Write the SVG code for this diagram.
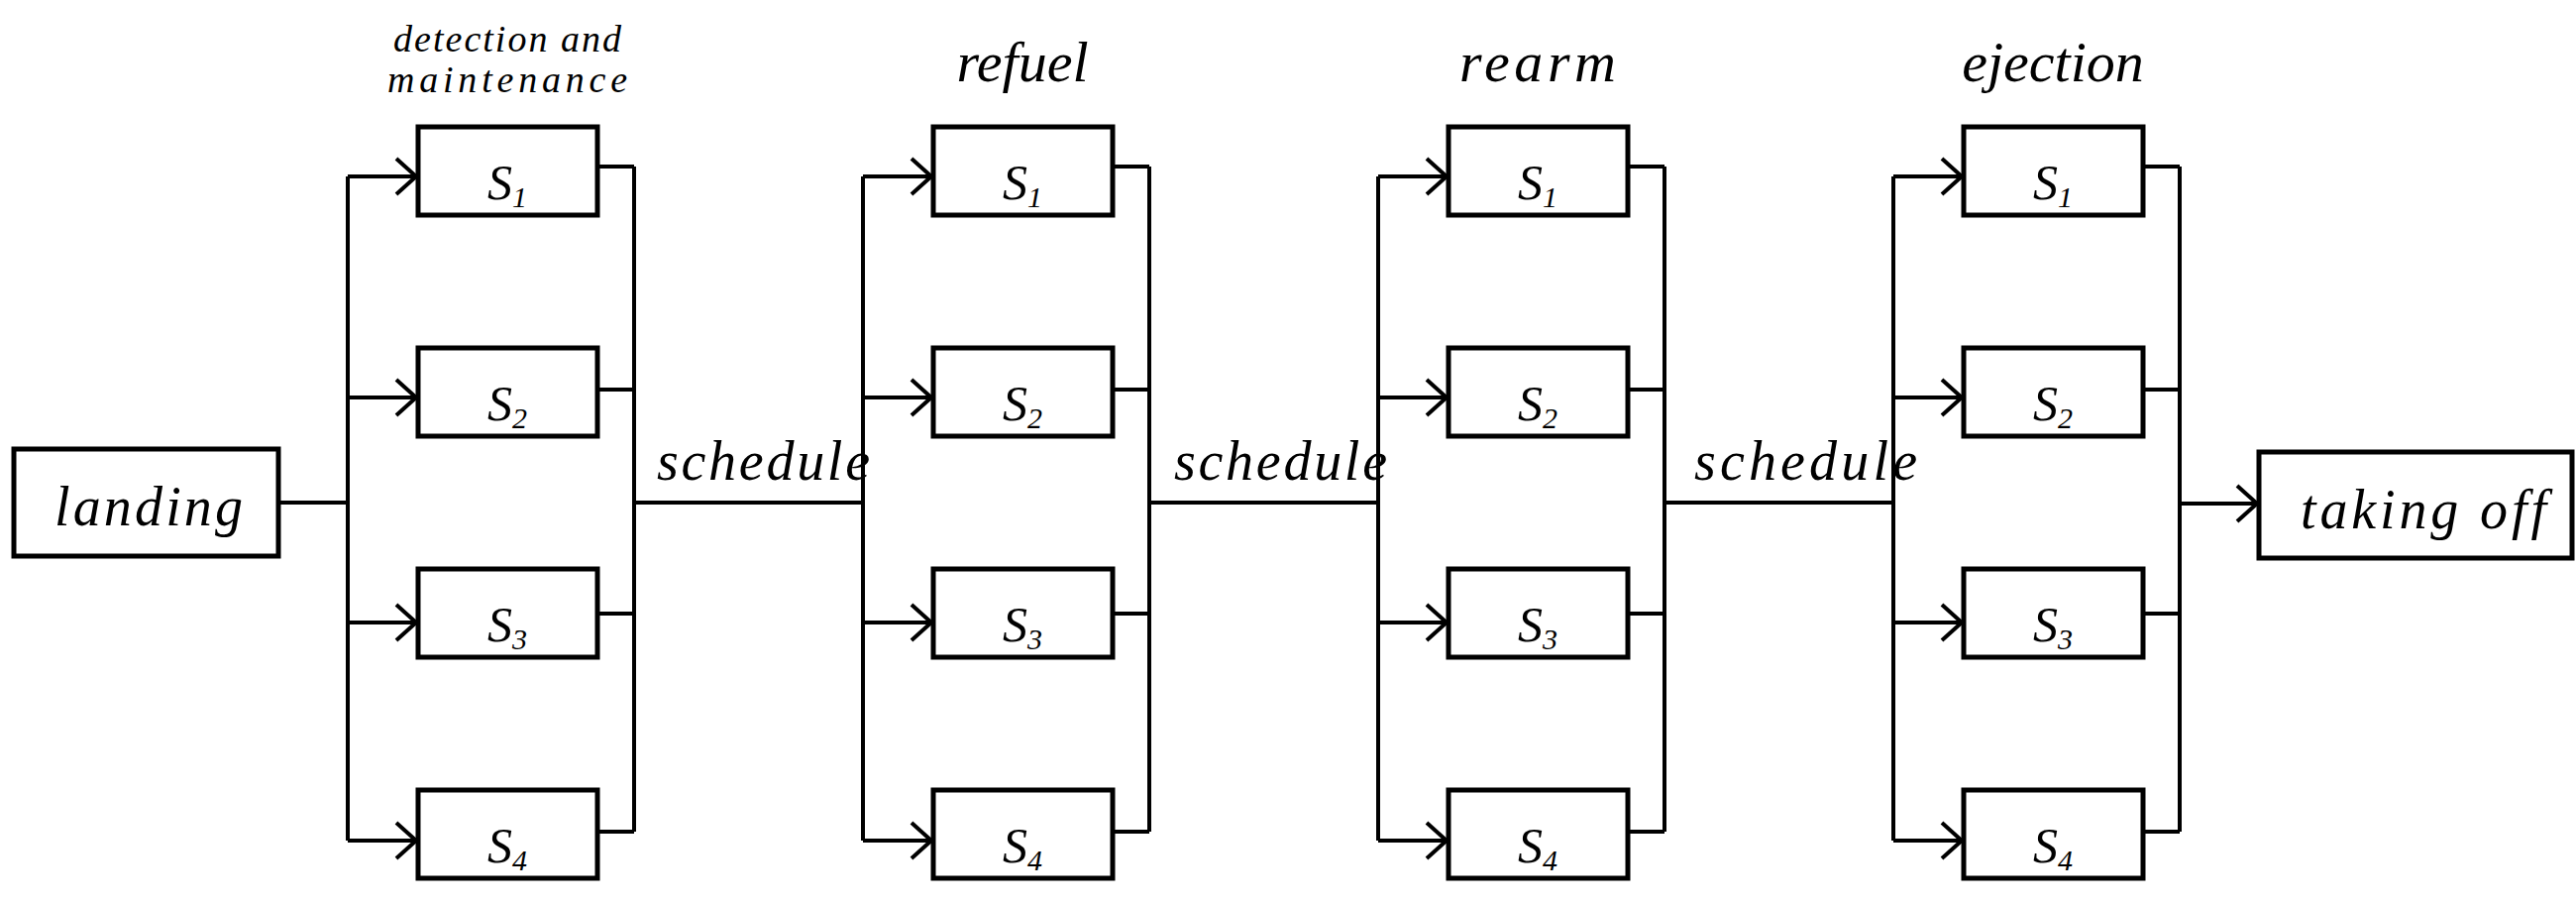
<svg xmlns="http://www.w3.org/2000/svg" width="2600" height="914" viewBox="0 0 2600 914">
<style>
.b{fill:#fff;stroke:#000;stroke-width:5}
.l{fill:none;stroke:#000;stroke-width:4}
text{font-family:"Liberation Serif","Times New Roman",serif;font-style:italic;fill:#000}
.s{font-size:50px;text-anchor:middle}
.h{font-size:58px;text-anchor:middle}
.t{font-size:56px}
</style>
<defs>
<marker id="a" markerUnits="userSpaceOnUse" markerWidth="30" markerHeight="40" refX="22" refY="20" orient="auto"><path d="M2,2 L22,20 L2,38" fill="none" stroke="#000" stroke-width="4"/></marker>
<g id="stage">
<path class="l" d="M351,178 V848 M351,178 H420 M351,401 H420 M351,628 H420 M351,848 H420" />
<path class="l" d="M603,168 H640 M603,393 H640 M603,619 H640 M603,839 H640 M640,168 V839"/>
</g>
</defs>
<g id="connectors">
<path class="l" d="M281,507 H351 M640,507 H871 M1160,507 H1391 M1680,507 H1911"/>
<path class="l" d="M2200,508 H2278" marker-end="url(#a)"/>
<g id="bus1"><path class="l" d="M351,178 V848 M603,168 H640 M603,393 H640 M603,619 H640 M603,839 H640 M640,168 V839"/>
<path class="l" marker-end="url(#a)" d="M351,178 H420"/><path class="l" marker-end="url(#a)" d="M351,401 H420"/><path class="l" marker-end="url(#a)" d="M351,628 H420"/><path class="l" marker-end="url(#a)" d="M351,848 H420"/></g>
<g transform="translate(520,0)"><path class="l" d="M351,178 V848 M603,168 H640 M603,393 H640 M603,619 H640 M603,839 H640 M640,168 V839"/>
<path class="l" marker-end="url(#a)" d="M351,178 H420"/><path class="l" marker-end="url(#a)" d="M351,401 H420"/><path class="l" marker-end="url(#a)" d="M351,628 H420"/><path class="l" marker-end="url(#a)" d="M351,848 H420"/></g>
<g transform="translate(1040,0)"><path class="l" d="M351,178 V848 M603,168 H640 M603,393 H640 M603,619 H640 M603,839 H640 M640,168 V839"/>
<path class="l" marker-end="url(#a)" d="M351,178 H420"/><path class="l" marker-end="url(#a)" d="M351,401 H420"/><path class="l" marker-end="url(#a)" d="M351,628 H420"/><path class="l" marker-end="url(#a)" d="M351,848 H420"/></g>
<g transform="translate(1560,0)"><path class="l" d="M351,178 V848 M603,168 H640 M603,393 H640 M603,619 H640 M603,839 H640 M640,168 V839"/>
<path class="l" marker-end="url(#a)" d="M351,178 H420"/><path class="l" marker-end="url(#a)" d="M351,401 H420"/><path class="l" marker-end="url(#a)" d="M351,628 H420"/><path class="l" marker-end="url(#a)" d="M351,848 H420"/></g>
<text class="t" x="663" y="484" textLength="215">schedule</text>
<text class="t" x="1185" y="484" textLength="215">schedule</text>
<text class="t" x="1710" y="484" textLength="225">schedule</text>
</g>
<g id="landing"><rect class="b" x="14" y="453" width="267" height="108"/><text class="t" x="55" y="530" textLength="190">landing</text></g>
<g id="takingoff"><rect class="b" x="2280" y="456" width="316" height="107"/><text class="t" x="2322" y="533" textLength="248">taking off</text></g>
<g id="headers">
<text x="512" y="52" font-size="38" text-anchor="middle" textLength="230">detection and</text>
<text x="512" y="93" font-size="38" text-anchor="middle" textLength="242">maintenance</text>
<text class="h" x="1032" y="82">refuel</text>
<text class="h" x="1552" y="82" textLength="158">rearm</text>
<text class="h" x="2072" y="82">ejection</text>
</g>
<g id="st1">
<g id="n1-1"><rect class="b" x="422" y="128" width="181" height="89"/><text class="s" x="512" y="201">S<tspan font-size="30" dy="8">1</tspan></text></g>
<g id="n1-2"><rect class="b" x="422" y="351" width="181" height="89"/><text class="s" x="512" y="424">S<tspan font-size="30" dy="8">2</tspan></text></g>
<g id="n1-3"><rect class="b" x="422" y="574" width="181" height="89"/><text class="s" x="512" y="647">S<tspan font-size="30" dy="8">3</tspan></text></g>
<g id="n1-4"><rect class="b" x="422" y="797" width="181" height="89"/><text class="s" x="512" y="870">S<tspan font-size="30" dy="8">4</tspan></text></g>
</g>
<g id="st2" transform="translate(520,0)">
<g id="n2-1"><rect class="b" x="422" y="128" width="181" height="89"/><text class="s" x="512" y="201">S<tspan font-size="30" dy="8">1</tspan></text></g>
<g id="n2-2"><rect class="b" x="422" y="351" width="181" height="89"/><text class="s" x="512" y="424">S<tspan font-size="30" dy="8">2</tspan></text></g>
<g id="n2-3"><rect class="b" x="422" y="574" width="181" height="89"/><text class="s" x="512" y="647">S<tspan font-size="30" dy="8">3</tspan></text></g>
<g id="n2-4"><rect class="b" x="422" y="797" width="181" height="89"/><text class="s" x="512" y="870">S<tspan font-size="30" dy="8">4</tspan></text></g>
</g>
<g id="st3" transform="translate(1040,0)">
<g id="n3-1"><rect class="b" x="422" y="128" width="181" height="89"/><text class="s" x="512" y="201">S<tspan font-size="30" dy="8">1</tspan></text></g>
<g id="n3-2"><rect class="b" x="422" y="351" width="181" height="89"/><text class="s" x="512" y="424">S<tspan font-size="30" dy="8">2</tspan></text></g>
<g id="n3-3"><rect class="b" x="422" y="574" width="181" height="89"/><text class="s" x="512" y="647">S<tspan font-size="30" dy="8">3</tspan></text></g>
<g id="n3-4"><rect class="b" x="422" y="797" width="181" height="89"/><text class="s" x="512" y="870">S<tspan font-size="30" dy="8">4</tspan></text></g>
</g>
<g id="st4" transform="translate(1560,0)">
<g id="n4-1"><rect class="b" x="422" y="128" width="181" height="89"/><text class="s" x="512" y="201">S<tspan font-size="30" dy="8">1</tspan></text></g>
<g id="n4-2"><rect class="b" x="422" y="351" width="181" height="89"/><text class="s" x="512" y="424">S<tspan font-size="30" dy="8">2</tspan></text></g>
<g id="n4-3"><rect class="b" x="422" y="574" width="181" height="89"/><text class="s" x="512" y="647">S<tspan font-size="30" dy="8">3</tspan></text></g>
<g id="n4-4"><rect class="b" x="422" y="797" width="181" height="89"/><text class="s" x="512" y="870">S<tspan font-size="30" dy="8">4</tspan></text></g>
</g>
</svg>
